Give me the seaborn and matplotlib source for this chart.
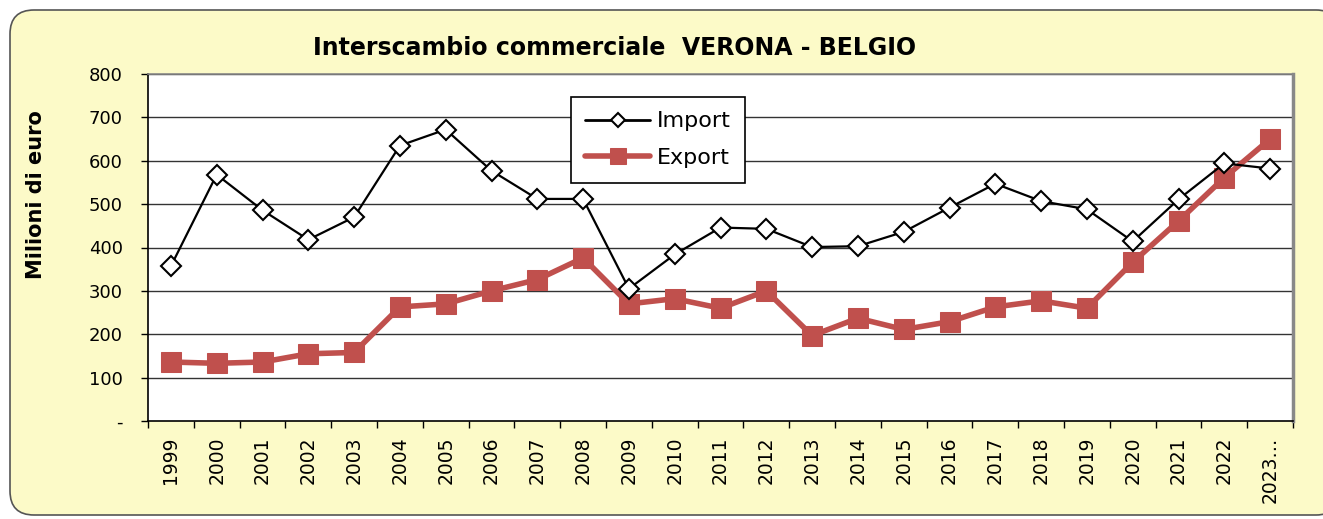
import matplotlib
matplotlib.use("Agg")
import matplotlib.pyplot as plt
import seaborn as sns
import pandas as pd
import numpy as np
from matplotlib.patches import FancyBboxPatch

years = ["1999", "2000", "2001", "2002", "2003", "2004", "2005", "2006", "2007", "2008",
         "2009", "2010", "2011", "2012", "2013", "2014", "2015", "2016", "2017", "2018",
         "2019", "2020", "2021", "2022", "2023…"]
import_vals = [357, 568, 486, 418, 470, 635, 672, 577, 512, 512,
               305, 384, 446, 443, 401, 403, 436, 492, 547, 507,
               488, 414, 511, 594, 582]
export_vals = [136, 133, 136, 155, 158, 263, 270, 300, 326, 376,
               270, 282, 260, 300, 197, 237, 211, 229, 263, 277,
               260, 366, 461, 561, 650]
y_ticks = [0, 100, 200, 300, 400, 500, 600, 700, 800]
y_labels = ["-", "100", "200", "300", "400", "500", "600", "700", "800"]

sns.set_theme(style="white")
plt.rcParams['font.family'] = ['DejaVu Sans']
plt.rcParams['text.color'] = 'black'
plt.rcParams['axes.labelcolor'] = 'black'
plt.rcParams['xtick.color'] = 'black'
plt.rcParams['ytick.color'] = 'black'

fig = plt.figure(figsize=(13.23, 5.19), dpi=100)
fig.patch.set_facecolor("white")
W, H = 1323, 519
bg = FancyBboxPatch((10, 4), 1330, 505, boxstyle="round,pad=0,rounding_size=24",
                    transform=None, facecolor="#FCFAC8", edgecolor="#555555",
                    linewidth=1.2, zorder=-10)
fig.patches.append(bg)

ax = fig.add_axes([148/W, 1 - 421/H, (1293 - 148)/W, (421 - 74)/H])
ax.set_zorder(1)
ax.set_facecolor("white")

df = pd.DataFrame({"x": np.arange(len(years)), "Import": import_vals, "Export": export_vals})

sns.lineplot(data=df, x="x", y="Import", ax=ax, color="black", linewidth=1.6,
             marker="D", markersize=10, markerfacecolor="white", markeredgecolor="black",
             markeredgewidth=1.5, label="Import", zorder=4)
sns.lineplot(data=df, x="x", y="Export", ax=ax, color="#C0504D", linewidth=4,
             marker="s", markersize=14, markerfacecolor="#C0504D", markeredgecolor="#C0504D",
             label="Export", zorder=3)

ax.set_xlim(-0.5, len(years) - 0.5)
ax.set_ylim(0, 800)
ax.set_yticks(y_ticks)
ax.set_yticklabels(y_labels, fontsize=13)
for v in y_ticks[1:]:
    ax.axhline(v, color="#333333", linewidth=1, zorder=1)

ax.set_xticks(np.arange(len(years)))
ax.set_xticklabels(years, rotation=90, fontsize=13.5)
ax.tick_params(axis="x", length=0, pad=11)
ax.set_xticks(np.arange(-0.5, len(years), 1), minor=True)
ax.tick_params(axis="x", which="minor", length=5, width=1, color="black", direction="out", bottom=True)
ax.tick_params(axis="y", length=5, width=1, color="black", direction="out", left=True, pad=13)

ax.set_xlabel("")
ax.set_ylabel("Milioni di euro", fontsize=15, fontweight="bold")
ax.yaxis.set_label_coords((46 - 148) / 1145, (421 - 195) / 347)

for s in ["left", "bottom"]:
    ax.spines[s].set_color("black")
    ax.spines[s].set_linewidth(1.2)
ax.spines["top"].set_color("#888888")
ax.spines["top"].set_linewidth(1.2)
ax.spines["right"].set_color("#888888")
ax.spines["right"].set_linewidth(2.5)

leg = ax.legend(loc="upper left", bbox_to_anchor=((571 - 148) / 1145, 1 - (97 - 74) / 347),
                frameon=True, fancybox=False, fontsize=16, handlelength=2.9,
                borderpad=0.65, labelspacing=0.75, handletextpad=0.3, borderaxespad=0)
leg.get_frame().set_edgecolor("black")
leg.get_frame().set_linewidth(1.2)
leg.get_frame().set_facecolor("white")
leg.get_frame().set_alpha(1)
hs = leg.legend_handles
hs[0].set_markersize(7)
hs[0].set_linewidth(2)
hs[1].set_markersize(11)
hs[1].set_linewidth(4)

fig.text(615 / W, 1 - 48 / H, "Interscambio commerciale  VERONA - BELGIO",
         ha="center", va="center", fontsize=17, fontweight="bold")

fig.savefig("out.png", dpi=100, facecolor=fig.get_facecolor())
